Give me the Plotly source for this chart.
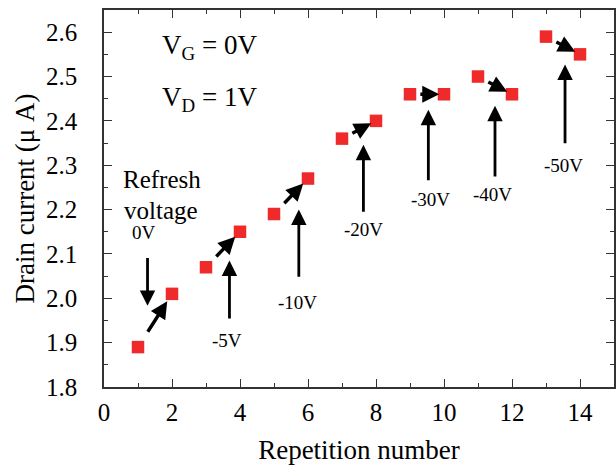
import plotly.graph_objects as go

repetition = list(range(1, 15))
drain_current = [1.89, 2.01, 2.07, 2.15, 2.19, 2.27, 2.36, 2.40, 2.46, 2.46, 2.50, 2.46, 2.59, 2.55]
refresh_labels = ["0V", "-5V", "-10V", "-20V", "-30V", "-40V", "-50V"]
x_ticks = [0, 2, 4, 6, 8, 10, 12, 14]
y_ticks = [1.8, 1.9, 2.0, 2.1, 2.2, 2.3, 2.4, 2.5, 2.6]

# vertical refresh arrows: (x, head y, tail y)
v_arrows = [(1.28, 1.983, 2.094), (3.69, 2.085, 1.951), (5.73, 2.20, 2.045),
            (7.63, 2.346, 2.192), (9.54, 2.425, 2.263), (11.50, 2.434, 2.271),
            (13.56, 2.527, 2.346)]
label_pos = [(1.18, 2.149), (3.62, 1.904), (5.68, 1.99), (7.62, 2.154),
             (9.59, 2.222), (11.44, 2.233), (13.5, 2.30)]

FONT = "Liberation Serif, Times New Roman, serif"

fig = go.Figure()
fig.add_trace(go.Scatter(x=repetition, y=drain_current, mode="markers",
                         marker=dict(symbol="square", size=12.5, color="#ee2a2a",
                                     line=dict(width=0)),
                         showlegend=False, hoverinfo="skip"))

ann = []
# diagonal arrows between each pair
for i in range(0, len(repetition), 2):
    x1, y1 = repetition[i], drain_current[i]
    x2, y2 = repetition[i + 1], drain_current[i + 1]
    t0, t1 = 0.26, 0.86
    ann.append(dict(x=x1 + t1 * (x2 - x1), y=y1 + t1 * (y2 - y1),
                    ax=x1 + t0 * (x2 - x1), ay=y1 + t0 * (y2 - y1),
                    xref="x", yref="y", axref="x", ayref="y", text="",
                    showarrow=True, arrowhead=2, arrowsize=1.0, arrowwidth=3.4,
                    arrowcolor="black"))
for (x, yh, yt) in v_arrows:
    ann.append(dict(x=x, y=yh, ax=x, ay=yt, xref="x", yref="y", axref="x", ayref="y",
                    text="", showarrow=True, arrowhead=2, arrowsize=1.1,
                    arrowwidth=2.8, arrowcolor="black"))
for lab, (x, y) in zip(refresh_labels, label_pos):
    ann.append(dict(x=x, y=y, xref="x", yref="y", text=lab, showarrow=False,
                    font=dict(family=FONT, size=19, color="black")))
ann.append(dict(x=1.72, y=2.267, xref="x", yref="y", text="Refresh", showarrow=False,
                font=dict(family=FONT, size=25, color="black")))
ann.append(dict(x=1.68, y=2.199, xref="x", yref="y", text="voltage", showarrow=False,
                font=dict(family=FONT, size=25, color="black")))
ann.append(dict(x=3.1, y=2.567, xref="x", yref="y", text="V<sub>G</sub> = 0V", showarrow=False,
                font=dict(family=FONT, size=27, color="black")))
ann.append(dict(x=3.1, y=2.45, xref="x", yref="y", text="V<sub>D</sub> = 1V", showarrow=False,
                font=dict(family=FONT, size=27, color="black")))

axis_common = dict(showline=True, linecolor="#333", linewidth=1.5, mirror="ticks",
                   ticks="inside", ticklen=8, tickwidth=1.3, tickcolor="#333",
                   showgrid=False, zeroline=False, automargin=False,
                   tickfont=dict(family=FONT, size=25, color="black"))

fig.update_layout(
    width=616, height=465,
    margin=dict(l=104, r=2, t=10, b=78),
    paper_bgcolor="white", plot_bgcolor="white",
    annotations=ann,
    xaxis=dict(range=[0, 15], tickvals=x_ticks, ticklabelstandoff=2,
               minor=dict(dtick=1, ticks="inside", ticklen=4, tickcolor="#333"),
               title=dict(text="Repetition number", standoff=18,
                          font=dict(family=FONT, size=27, color="black")),
               **axis_common),
    yaxis=dict(range=[1.8, 2.65], tickvals=y_ticks, tickformat=".1f", ticklabelstandoff=20,
               minor=dict(dtick=0.05, ticks="inside", ticklen=4, tickcolor="#333"),
               title=dict(text="Drain current (\u03bc A)", standoff=4,
                          font=dict(family=FONT, size=27, color="black")),
               **axis_common),
)
fig.write_html("out.html", config={"displayModeBar": False},
               post_script="document.body.style.margin='0';document.body.style.overflow='hidden';")
